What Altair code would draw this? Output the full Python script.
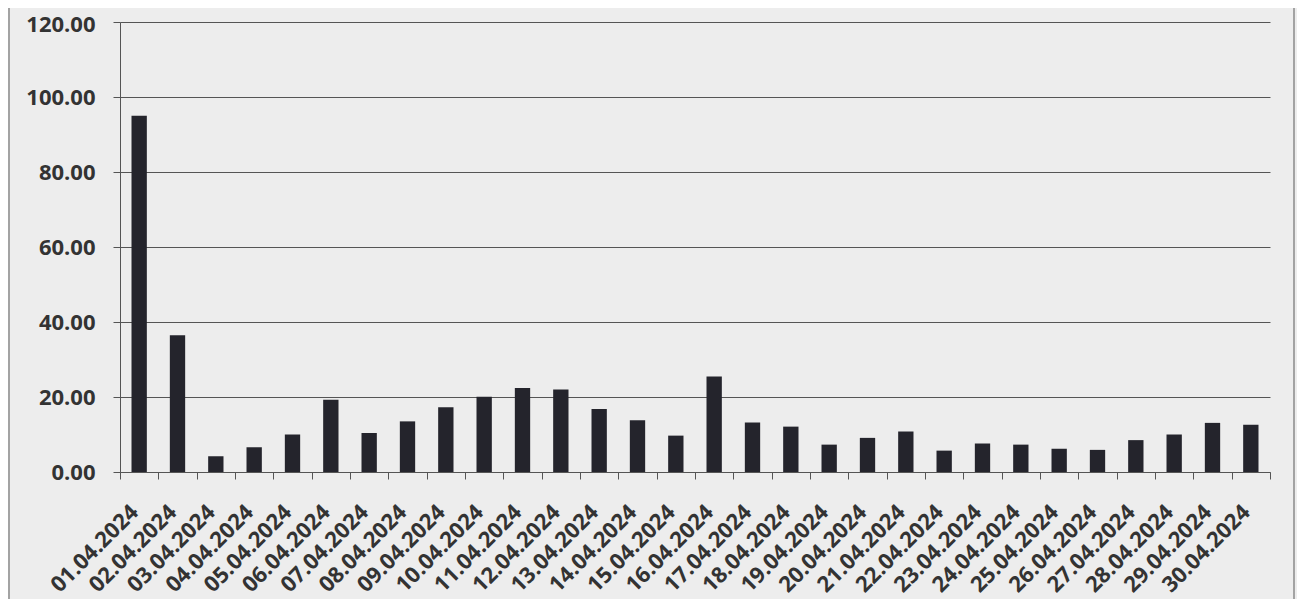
import altair as alt
import pandas as pd

dates = [
    "01.04.2024", "02.04.2024", "03.04.2024", "04.04.2024", "05.04.2024",
    "06.04.2024", "07.04.2024", "08.04.2024", "09.04.2024", "10.04.2024",
    "11.04.2024", "12.04.2024", "13.04.2024", "14.04.2024", "15.04.2024",
    "16.04.2024", "17.04.2024", "18.04.2024", "19.04.2024", "20.04.2024",
    "21.04.2024", "22.04.2024", "23.04.2024", "24.04.2024", "25.04.2024",
    "26.04.2024", "27.04.2024", "28.04.2024", "29.04.2024", "30.04.2024",
]
values = [
    95.0, 36.5, 4.2, 6.6, 10.0,
    19.3, 10.4, 13.5, 17.3, 20.1,
    22.4, 22.0, 16.8, 13.8, 9.7,
    25.5, 13.2, 12.1, 7.3, 9.1,
    10.8, 5.7, 7.6, 7.3, 6.2,
    5.9, 8.5, 10.0, 13.1, 12.6,
]
y_ticks = [0, 20, 40, 60, 80, 100, 120]

df = pd.DataFrame({"date": dates, "value": values})

FONT = "Open Sans"
LABEL_COLOR = "#333333"
LINE_COLOR = "#555555"

bars = alt.Chart(df).mark_bar(
    color="#24242c", width=alt.RelativeBandSize(0.4)
).encode(
    x=alt.X(
        "date:N",
        sort=dates,
        scale=alt.Scale(paddingInner=0, paddingOuter=0),
        axis=alt.Axis(
            title=None,
            labelAngle=-45,
            labelFont=FONT,
            labelFontSize=22,
            labelFontWeight="bold",
            labelColor=LABEL_COLOR,
            labelPadding=22,
            labelOffset=-12,
            tickBand="extent",
            tickSize=7,
            tickColor=LINE_COLOR,
            domainColor=LINE_COLOR,
            grid=False,
        ),
    ),
    y=alt.Y(
        "value:Q",
        scale=alt.Scale(domain=[0, 120]),
        axis=alt.Axis(
            title=None,
            values=y_ticks,
            format=".2f",
            labelFont=FONT,
            labelFontSize=22,
            labelFontWeight="bold",
            labelColor=LABEL_COLOR,
            labelPadding=18,
            labelOffset={"condition": {"test": "datum.value == 120", "value": 2}, "value": 0},
            tickSize=7,
            tickColor=LINE_COLOR,
            domainColor=LINE_COLOR,
            grid=True,
            gridColor=LINE_COLOR,
            gridWidth=1,
        ),
    ),
)

frame_df = pd.DataFrame({"k": [0]})
left_border = alt.Chart(frame_df).mark_rule(color="#8a8a8a", strokeWidth=1.5).encode(
    x=alt.value(-111), y=alt.value(-14), y2=alt.value(580)
)
right_border = alt.Chart(frame_df).mark_rule(color="#8a8a8a", strokeWidth=1.5).encode(
    x=alt.value(1174), y=alt.value(-14), y2=alt.value(580)
)

chart = alt.layer(bars, left_border, right_border).properties(
    width=1150,
    height=450,
    autosize=alt.AutoSizeParams(type="none"),
    padding={"left": 112, "top": 14, "right": 27, "bottom": 127},
).configure(background="#ededed").configure_view(strokeWidth=0)

chart.save("out.html", embed_options={"renderer": "svg", "actions": False})
